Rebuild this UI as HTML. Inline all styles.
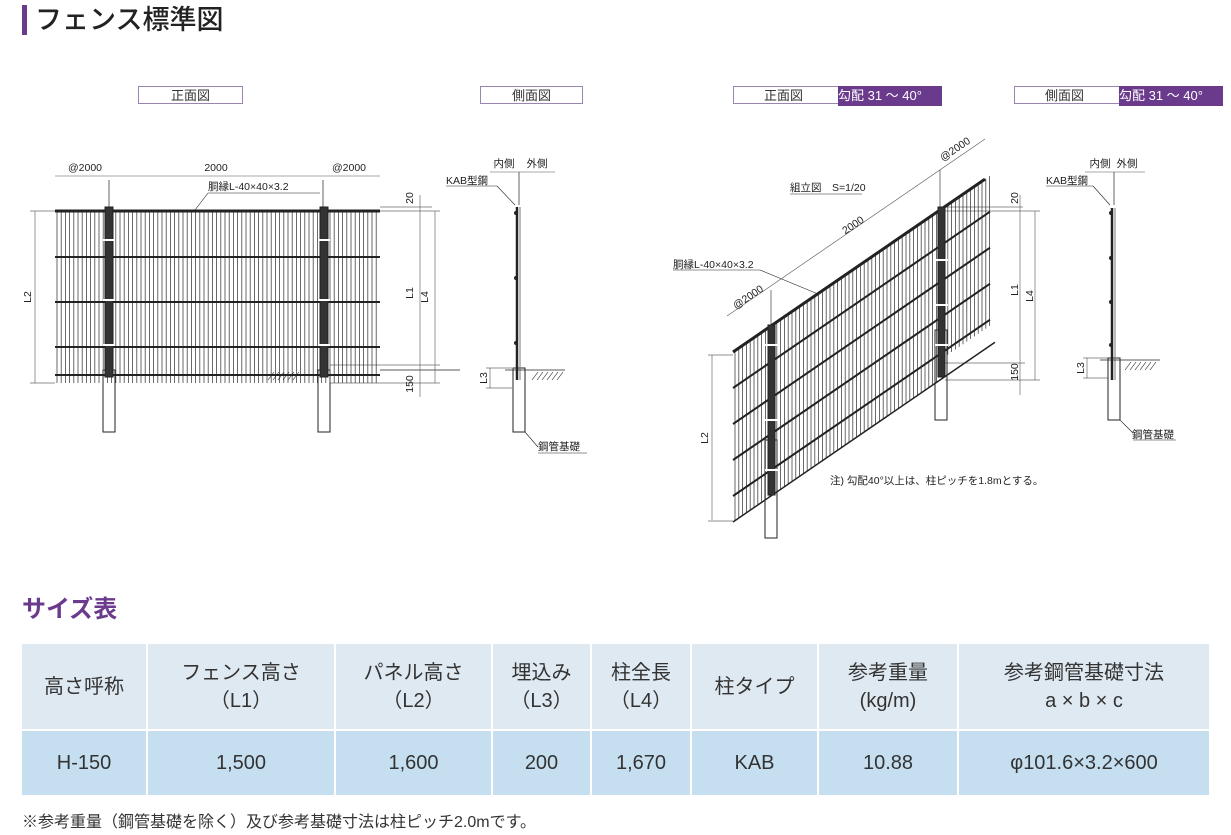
<!DOCTYPE html>
<html><head><meta charset="utf-8">
<style>
body{margin:0;width:1231px;height:835px;background:#fff;font-family:"Liberation Sans","Noto Sans CJK JP",sans-serif;position:relative;overflow:hidden;color:#222}
.h1{position:absolute;left:22px;top:5px;height:30px;border-left:5px solid #6a3a8c;padding-left:8px;font-size:27px;line-height:30px;color:#222;font-weight:500}
.tag{position:absolute;top:86px;height:18px;border:1px solid #9a85b0;font-size:13px;line-height:18px;text-align:center;color:#333;box-sizing:border-box}
.tag b{position:absolute;top:-1px;height:20px;background:#6a3a8c;color:#fff;font-weight:normal;line-height:20px}
.h2{position:absolute;left:22px;top:589px;font-size:24px;color:#6a3a8c;font-weight:bold}
table{position:absolute;left:22px;top:644px;border-collapse:separate;border-spacing:2px 0;margin-left:-2px}
td{text-align:center;font-size:20px;color:#333;padding:0;line-height:28px}
tr.hd td{background:#dfe9f1;height:85px}
tr.dt td{background:#c5dff0;height:64px;border-top:2px solid #fff}
.note{position:absolute;left:22px;top:808px;font-size:16px;color:#333}
svg{position:absolute;left:0;top:0}
svg text{font-family:"Liberation Sans","Noto Sans CJK JP",sans-serif;font-size:10.5px;fill:#222}
</style></head><body>
<div class="h1">フェンス標準図</div>
<div class="tag" style="left:138px;width:105px">正面図</div>
<div class="tag" style="left:480px;width:103px">側面図</div>
<div class="tag" style="left:733px;width:208px;text-align:left;padding-left:30px">正面図<b style="left:104px;width:104px">勾配 31 ～ 40°</b></div>
<div class="tag" style="left:1014px;width:208px;text-align:left;padding-left:30px">側面図<b style="left:104px;width:104px">勾配 31 ～ 40°</b></div>
<svg id="s" width="1231" height="560" viewBox="0 0 1231 560"></svg>
<div class="h2">サイズ表</div>
<table>
<tr class="hd"><td style="width:124px">高さ呼称</td><td style="width:186px">フェンス高さ<br>（L1）</td><td style="width:155px">パネル高さ<br>（L2）</td><td style="width:97px">埋込み<br>（L3）</td><td style="width:98px">柱全長<br>（L4）</td><td style="width:125px">柱タイプ</td><td style="width:138px">参考重量<br>(kg/m)</td><td style="width:250px">参考鋼管基礎寸法<br>a × b × c</td></tr>
<tr class="dt"><td>H-150</td><td>1,500</td><td>1,600</td><td>200</td><td>1,670</td><td>KAB</td><td>10.88</td><td>φ101.6×3.2×600</td></tr>
</table>
<div class="note">※参考重量（鋼管基礎を除く）及び参考基礎寸法は柱ピッチ2.0mです。</div>
<script>
var s=document.getElementById('s'),o='';
function L(x1,y1,x2,y2,w,c){o+='<line x1="'+x1+'" y1="'+y1+'" x2="'+x2+'" y2="'+y2+'" stroke="'+(c||'#222')+'" stroke-width="'+(w||1)+'"/>';}
function R(x,y,w,h,f){o+='<rect x="'+x+'" y="'+y+'" width="'+w+'" height="'+h+'" fill="'+(f||'#fff')+'" stroke="#222" stroke-width="1"/>';}
function T(x,y,t,a,r){o+='<text x="'+x+'" y="'+y+'"'+(a?' text-anchor="'+a+'"':'')+(r!=null?' transform="rotate('+r+' '+x+' '+y+')"':'')+'>'+t+'</text>';}
function H(x,y){for(var i=0;i<6;i++)L(x+i*5,y+8,x+i*5+6,y,0.6);}
R(103,370,12,62);R(318,370,12,62);
for(var x=57;x<=380;x+=4.2)L(x,211,x,383,0.8,'#444');
L(55,211,380,211,3);[257,302,347,375].forEach(function(y){L(55,y,380,y,2);});
R(105,207,8,170,'#333');R(320,207,8,170,'#333');
[240,300,345].forEach(function(y){L(103,y,115,y,2,'#fff');L(318,y,330,y,2,'#fff');});
L(109,180,109,207,0.7);L(323,180,323,207,0.7);
L(55,176,380,176,0.6,'#555');T(85,171,'@2000','middle');T(216,171,'2000','middle');T(349,171,'@2000','middle');
T(208,190,'胴縁L-40×40×3.2');L(195,210,208,193,0.6);L(208,193,320,193,0.6);
L(35,211,35,383,0.6,'#555');L(30,211,55,211,0.6);L(30,383,55,383,0.6);T(31,297,'L2','middle',-90);
L(380,207,432,207,0.6);L(380,211,440,211,0.6);L(330,365,440,365,0.6);L(330,383,440,383,0.6);L(380,370,460,370,0.8);
L(420,195,420,397,0.6,'#555');L(435,211,435,383,0.6,'#555');
T(413,198,'20','middle',-90);T(413,293,'L1','middle',-90);T(428,297,'L4','middle',-90);T(413,384,'150','middle',-90);
H(268,372);
R(513,368,12,64);L(517,207,517,380,2.5);L(520,207,520,380,1,'#777');
[213,278,343].forEach(function(y){o+='<circle cx="516" cy="'+y+'" r="2" fill="#222"/>';});
L(519,172,519,205,0.7);L(490,172,555,172,0.6,'#555');T(504,167,'内側','middle');T(537,167,'外側','middle');
T(446,184,'KAB型鋼');L(446,186,497,186,0.6);L(497,186,515,205,0.6);
L(490,368,490,388,0.6,'#555');L(486,368,512,368,0.6);L(486,388,512,388,0.6);T(487,378,'L3','middle',-90);
L(505,370,565,370,0.8);H(532,372);
L(525,432,538,447,0.6);L(538,453,587,453,0.6);T(538,450,'鋼管基礎');
var k=-0.686;function Y(x,b){return b+(x-733)*k;}
R(765,440,12,98);R(935,330,12,90);
for(var x=735;x<=990;x+=3.8){var t=Y(x,352);L(x,t,x,t+170+((x>940)?-20:0),0.8,'#444');}
L(733,352,985,Y(985,352),3);
for(var i=1;i<=4;i++){L(733,352+i*36,990,Y(990,352+i*36),2);}
L(733,522,995,Y(995,522),1.5);
R(768,325,7,170,'#333');R(938,207,7,170,'#333');
[345,420,470].forEach(function(y){L(765,y,778,y,2,'#fff');});[260,305,345].forEach(function(y){L(935,y,948,y,2,'#fff');});
L(727,316,985,139,0.6,'#555');L(771,290,771,325,0.6);L(940,170,940,207,0.6);
T(750,300,'@2000','middle',-34);T(855,228,'2000','middle',-34);T(957,152,'@2000','middle',-34);
T(790,191,'組立図　S=1/20');L(790,194,862,194,0.6);
T(673,268,'胴縁L-40×40×3.2');L(673,270,760,270,0.6);L(760,270,818,294,0.6);
L(712,355,712,520,0.6,'#555');L(708,355,733,355,0.6);L(708,521,733,521,0.6);T(708,438,'L2','middle',-90);
L(945,207,1023,207,0.6);L(945,211,1040,211,0.6);L(945,363,1025,363,0.6);L(945,380,1040,380,0.6);
L(1020,195,1020,395,0.6,'#555');L(1035,211,1035,380,0.6,'#555');
T(1018,198,'20','middle',-90);T(1018,290,'L1','middle',-90);T(1033,296,'L4','middle',-90);T(1018,372,'150','middle',-90);
T(830,484,'注) 勾配40°以上は、柱ピッチを1.8mとする。');
R(1108,358,12,62);L(1112,208,1112,380,2.5);L(1115,208,1115,380,1,'#777');
[213,258,302,345].forEach(function(y){o+='<circle cx="1111" cy="'+y+'" r="2" fill="#222"/>';});
L(1114,172,1114,205,0.7);L(1085,172,1145,172,0.6,'#555');T(1100,167,'内側','middle');T(1127,167,'外側','middle');
T(1046,184,'KAB型鋼');L(1046,186,1093,186,0.6);L(1093,186,1110,205,0.6);
L(1087,358,1087,378,0.6,'#555');L(1083,358,1108,358,0.6);L(1083,378,1108,378,0.6);T(1084,368,'L3','middle',-90);
L(1100,360,1160,360,0.8);H(1125,362);
L(1120,420,1133,433,0.6);L(1133,440,1176,440,0.6);T(1132,438,'鋼管基礎');
s.innerHTML=o;
</script>
</body></html>
